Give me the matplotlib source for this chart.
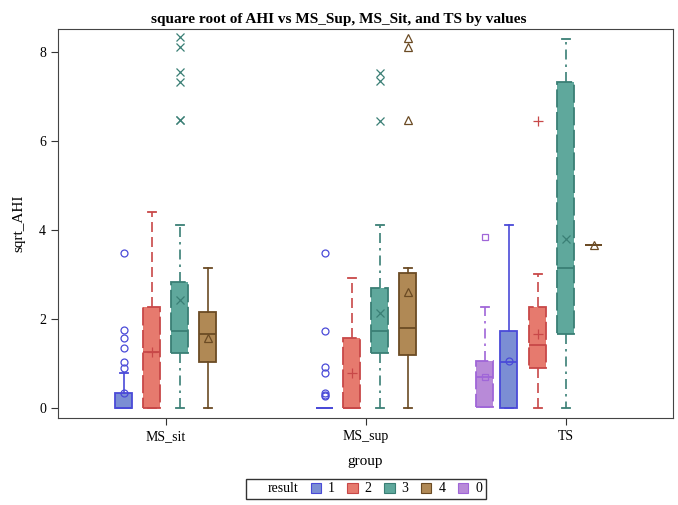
import matplotlib
matplotlib.use('Agg')
import matplotlib.pyplot as plt
from matplotlib.patches import Patch

plt.rcParams['font.family'] = ['Liberation Serif', 'DejaVu Serif']

# categories and groups
groups = ['MS_sit', 'MS_sup', 'TS']
results = ['1', '2', '3', '4', '0']

# box statistics per result, one entry per group (None = no box)
q1 = {'1': [0.0, 0.0, 0.0], '2': [0.0, 0.0, 0.89], '3': [1.23, 1.23, 1.66],
      '4': [1.03, 1.18, 3.66], '0': [None, None, 0.03]}
med = {'1': [0.0, 0.0, 1.03], '2': [1.25, 0.0, 1.42], '3': [1.73, 1.73, 3.15],
       '4': [1.66, 1.79, 3.66], '0': [None, None, 0.70]}
q3 = {'1': [0.33, 0.0, 1.73], '2': [2.28, 1.58, 2.28], '3': [2.84, 2.70, 7.33],
      '4': [2.15, 3.04, 3.66], '0': [None, None, 1.06]}
whislo = {'1': [0.0, 0.0, 0.0], '2': [0.0, 0.0, 0.0], '3': [0.0, 0.0, 0.0],
          '4': [0.0, 0.0, 3.66], '0': [None, None, 0.03]}
whishi = {'1': [0.78, 0.0, 4.11], '2': [4.40, 2.93, 3.01], '3': [4.11, 4.11, 8.29],
          '4': [3.15, 3.14, 3.66], '0': [None, None, 2.26]}
means = {'1': [0.33, 0.30, 1.05], '2': [1.25, 0.79, 1.66], '3': [2.43, 2.13, 3.79],
         '4': [1.58, 2.61, 3.66], '0': [None, None, 0.70]}
fliers = {'1': [[3.48, 1.75, 1.57, 1.34, 1.04, 0.89], [3.48, 1.73, 0.93, 0.79, 0.34, 0.27], []],
          '2': [[], [], [6.46]],
          '3': [[8.34, 8.12, 7.56, 7.33, 6.47, 6.47], [7.54, 7.34, 6.45], []],
          '4': [[], [8.31, 8.12, 6.47], []],
          '0': [[], [], [3.85]]}

# cluster offsets (layout)
offsets = {'1': [-0.21, -0.205, -0.285], '2': [-0.07, -0.07, -0.14], '3': [0.07, 0.07, 0.0],
           '4': [0.21, 0.21, 0.14], '0': [None, None, -0.405]}

fill = {'1': '#7b8ed4', '2': '#e67a6e', '3': '#5fa89c', '4': '#b08955', '0': '#b88ad8'}
edge = {'1': '#4a4ad8', '2': '#c84848', '3': '#3a7f75', '4': '#6b4b24', '0': '#a066d8'}
box_ls = {'1': '-', '2': (0, (10, 2.5)), '3': (0, (10, 2.5)), '4': '-', '0': (0, (10, 2.5))}
whisk_ls = {'1': '-', '2': (0, (6, 3)), '3': (0, (6, 3, 1.5, 3)), '4': '-', '0': (0, (6, 3, 1.5, 3))}
markers = {'1': 'o', '2': '+', '3': 'x', '4': '^', '0': 's'}
msize = {'1': 5, '2': 7, '3': 6, '4': 5.5, '0': 5}

fig = plt.figure(figsize=(6.78, 5.05), dpi=100)
ax = fig.add_axes([0.0855, 0.1723, 0.9065, 0.7703])

for r in results:
    for i, g in enumerate(groups):
        if q1[r][i] is None:
            continue
        stats = [{'q1': q1[r][i], 'med': med[r][i], 'q3': q3[r][i],
                  'whislo': whislo[r][i], 'whishi': whishi[r][i],
                  'mean': means[r][i], 'fliers': fliers[r][i]}]
        mk = dict(marker=markers[r], markersize=msize[r], markerfacecolor='none',
                  markeredgecolor=edge[r], markeredgewidth=0.9, linestyle='none')
        ax.bxp(stats, positions=[i + offsets[r][i]], widths=0.085, capwidths=0.04,
               patch_artist=True, showmeans=True, manage_ticks=False,
               boxprops=dict(facecolor=fill[r], edgecolor=edge[r], linewidth=1.3,
                             linestyle=box_ls[r]),
               whiskerprops=dict(color=edge[r], linewidth=1.2, linestyle=whisk_ls[r]),
               capprops=dict(color=edge[r], linewidth=1.3),
               medianprops=dict(color=edge[r], linewidth=1.3),
               meanprops=mk, flierprops=mk)

ax.set_xlim(-0.54, 2.535)
ax.set_ylim(-0.225, 8.52)
ax.set_xticks(range(len(groups)))
ax.set_xticklabels(groups, fontsize=10)
ax.set_yticks([0, 2, 4, 6, 8])
ax.tick_params(labelsize=10, length=5, color='#333333')
ax.set_xlabel('group', fontsize=11, labelpad=9)
ax.set_ylabel('sqrt_AHI', fontsize=11, labelpad=10)
for s in ax.spines.values():
    s.set_color('#444444')
fig.suptitle('square root of AHI vs MS_Sup, MS_Sit, and TS by values',
             fontsize=11, fontweight='bold', y=0.975)

handles = [Patch(facecolor='none', edgecolor='none')]
labels = ['result']
for r in results:
    handles.append(Patch(facecolor=fill[r], edgecolor=edge[r], linewidth=0.8))
    labels.append(r)
leg = fig.legend(handles, labels, loc='center', bbox_to_anchor=(366 / 678, 1 - 489 / 505),
                 ncol=6, fontsize=10, frameon=True, fancybox=False, edgecolor='black',
                 handlelength=0.75, handleheight=0.75, handletextpad=0.5,
                 columnspacing=0.9, borderpad=0.25)
leg.get_frame().set_linewidth(1.0)

fig.savefig('out.png', dpi=100)
